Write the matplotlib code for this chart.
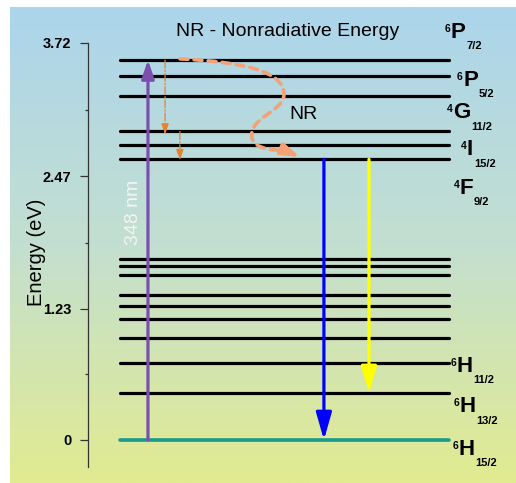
import numpy as np
import matplotlib
matplotlib.use("Agg")
import matplotlib.pyplot as plt
from matplotlib.path import Path
from matplotlib.patches import PathPatch
from matplotlib.colors import LinearSegmentedColormap

plt.rcParams['font.family'] = ['Liberation Sans', 'DejaVu Sans']

# energy levels (eV)
upper_levels = [3.56, 3.41, 3.22, 2.90, 2.765, 2.63]
lower_levels = [1.70, 1.635, 1.545, 1.36, 1.26, 1.13, 0.96, 0.72, 0.44]
ground_level = 0.0
yticks = [0, 1.23, 2.47, 3.72]
ytick_labels = ["0", "1.23", "2.47", "3.72"]

# transitions: (x, start eV, end eV)
excitation = (0.85, 0.0, 3.56)
blue_emission = (6.20, 2.63, 0.0)
yellow_emission = (7.57, 2.63, 0.44)
relax_small = [(1.37, 3.56, 2.86), (1.82, 2.89, 2.62)]

# NR curve (bezier points, level units / eV)
nr_curve = [(1.824, 3.571), (3.799, 3.543), (5.015, 3.449), (4.985, 3.233),
            (4.954, 3.074), (3.891, 3.018), (4.012, 2.830),
            (4.103, 2.718), (4.711, 2.718), (5.046, 2.709)]
nr_tip = (5.471, 2.652)

# term labels: letter, superscript, subscript, y (eV), x of letter
terms = [("P", "6", "7/2", 3.82, 10.06),
         ("P", "6", "5/2", 3.37, 10.43),
         ("G", "4", "11/2", 3.065, 10.12),
         ("I", "4", "15/2", 2.72, 10.55),
         ("F", "4", "9/2", 2.36, 10.33),
         ("H", "6", "11/2", 0.69, 10.24),
         ("H", "6", "13/2", 0.31, 10.33),
         ("H", "6", "15/2", -0.085, 10.30)]

W, H = 516, 483
fig = plt.figure(figsize=(W / 100, H / 100), dpi=100)

# gradient background
bg = fig.add_axes([10 / W, 0, (W - 10) / W, (H - 7) / H])
cmap = LinearSegmentedColormap.from_list("bg", ["#acd5ec", "#c3dfd0", "#e2eb90"])
bg.imshow(np.linspace(0, 1, 256).reshape(-1, 1), aspect="auto", cmap=cmap,
          extent=[0, 1, 0, 1])
bg.set_axis_off()

ax = fig.add_axes([88 / W, (H - 467) / H, (W - 88) / W, 424 / H])
ax.set_facecolor("none")
ax.set_xlim(-0.973, 12.04)
ax.set_ylim(-0.253, 3.72)

for e in upper_levels + lower_levels:
    ax.plot([0, 10], [e, e], color="black", lw=2.3, solid_capstyle="round", zorder=2)
ax.plot([0, 10], [ground_level, ground_level], color="#1a9a8c", lw=2.6,
        solid_capstyle="round", zorder=2)


def arrow(x, y0, y1, color, lw, hl, hw, ls="-"):
    ax.annotate("", xy=(x, y1), xytext=(x, y0),
                arrowprops=dict(arrowstyle=f"-|>,head_length={hl},head_width={hw}",
                                color=color, lw=lw, ls=ls, shrinkA=0, shrinkB=0,
                                mutation_scale=10), zorder=3)


arrow(excitation[0], excitation[1], excitation[2], "#7a4fae", 2.3, 1.1, 0.38)
arrow(blue_emission[0], blue_emission[1], blue_emission[2], "#0000ff", 2.3, 1.65, 0.47)
arrow(yellow_emission[0], yellow_emission[1], yellow_emission[2], "#ffff00", 2.3, 1.6, 0.47)
for x, y0, y1 in relax_small:
    arrow(x, y0, y1, "#e8802e", 0.9, 0.65, 0.22, ls="-.")

codes = [Path.MOVETO] + [Path.CURVE4] * (len(nr_curve) - 1)
ax.add_patch(PathPatch(Path(nr_curve, codes), fill=False, edgecolor="#f5a173",
                       lw=2.6, ls=(0, (2.2, 1.7)), capstyle="round", zorder=4))
ax.annotate("", xy=nr_tip, xytext=nr_curve[-1],
            arrowprops=dict(arrowstyle="-|>,head_length=1.1,head_width=0.36",
                            color="#f5a173", lw=2.6, shrinkA=0, shrinkB=0,
                            mutation_scale=10), zorder=4)

ax.text(5.11, 3.83, "NR - Nonradiative Energy", fontsize=14, ha="center",
        va="center", clip_on=False)
ax.text(5.59, 3.05, "NR", fontsize=14, ha="center", va="center")
ax.text(0.40, 2.13, "348 nm", fontsize=14, color="#f4f4f4", rotation=90,
        ha="center", va="center", zorder=5)

for letter, sup, sub, y, x in terms:
    t = ax.text(x, y, letter, fontsize=16, fontweight="bold", ha="left",
                va="center", clip_on=False)
    ax.annotate(sup, xy=(0, 1), xycoords=t, xytext=(-0.3, -1.5),
                textcoords="offset points", ha="right", va="top",
                fontsize=7.5, fontweight="bold")
    ax.annotate(sub, xy=(1, 0), xycoords=t, xytext=(0.5, 1.0),
                textcoords="offset points", ha="left", va="top",
                fontsize=8, fontweight="bold")

for s in ["top", "right", "bottom"]:
    ax.spines[s].set_visible(False)
ax.spines["left"].set_color("#333333")
ax.spines["left"].set_linewidth(0.9)
ax.set_xticks([])
ax.set_yticks(yticks)
ax.set_yticklabels(ytick_labels, fontsize=10.5, fontweight="bold")
ax.set_yticks([0.615, 1.85, 3.095], minor=True)
ax.tick_params(axis="y", which="major", length=5.8, width=0.9, color="#333333", pad=6)
ax.tick_params(axis="y", which="minor", length=2.2, width=0.9, color="#333333")
ax.set_ylabel("Energy (eV)", fontsize=14.5)
ax.yaxis.set_label_coords(-0.098, 0.507)

fig.savefig("out.png", dpi=100)
